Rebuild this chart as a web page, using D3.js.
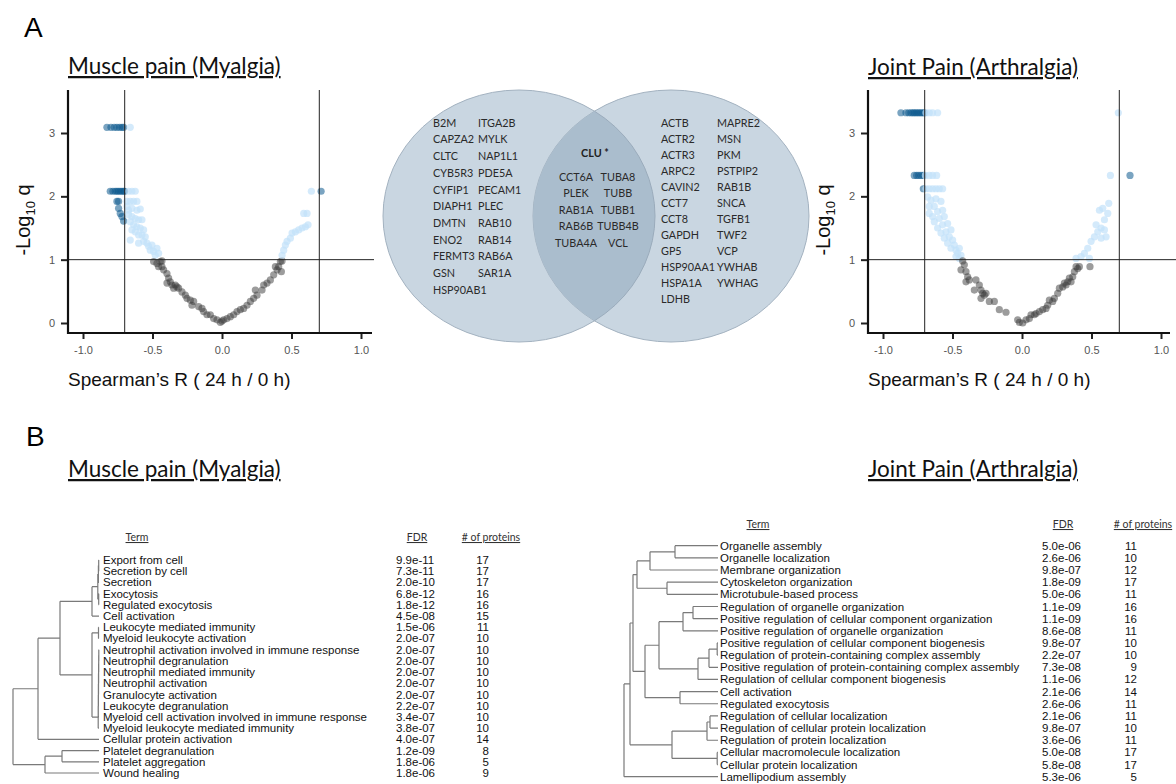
<!DOCTYPE html>
<html><head><meta charset="utf-8">
<script src="https://cdn.jsdelivr.net/npm/d3@7"></script>
<style>body{margin:0;background:#fff}svg{display:block}</style>
</head><body>
<svg id="c" width="1176" height="784"></svg>
<script>
// ---------------- DATA ----------------
const xTicks = [-1, -0.5, 0, 0.5, 1];
const yTicks = [0, 1, 2, 3];
const rCut = 0.7, qCut = 1;

// [Spearman's R, -log10 q]
const myalgiaPoints = [
 [-0.828,3.09],[-0.799,3.09],[-0.775,3.09],[-0.756,3.09],[-0.737,3.09],[-0.72,3.09],[-0.708,3.09],[-0.66,3.09],
 [-0.804,2.08],[-0.785,2.08],[-0.768,2.08],[-0.756,2.08],[-0.744,2.08],[-0.732,2.08],[-0.72,2.08],[-0.708,2.08],[-0.701,2.08],
 [-0.672,2.08],[-0.648,2.08],[-0.624,2.08],
 [-0.756,1.92],[-0.744,1.92],[-0.684,1.92],[-0.66,1.92],[-0.636,1.92],[-0.612,1.92],
 [-0.744,1.81],[-0.732,1.73],[-0.72,1.68],[-0.708,1.61],
 [-0.684,1.84],[-0.672,1.78],[-0.648,1.81],[-0.612,1.78],[-0.588,1.80],[-0.672,1.71],[-0.648,1.68],[-0.624,1.65],
 [-0.600,1.63],[-0.576,1.63],[-0.660,1.60],[-0.636,1.55],[-0.612,1.52],[-0.588,1.50],[-0.564,1.47],[-0.648,1.47],
 [-0.624,1.44],[-0.600,1.39],[-0.576,1.39],[-0.552,1.36],[-0.660,1.31],[-0.600,1.26],[-0.564,1.29],[-0.540,1.26],
 [-0.528,1.21],[-0.516,1.15],[-0.492,1.13],[-0.480,1.07],[-0.468,1.18],[-0.456,1.10],[-0.504,1.23],
 [-0.492,0.97],[-0.468,0.94],[-0.444,0.97],[-0.432,0.98],[-0.456,0.89],[-0.432,0.89],[-0.420,0.84],[-0.396,0.78],
 [-0.384,0.71],[-0.372,0.65],[-0.396,0.63],[-0.360,0.60],[-0.336,0.60],[-0.324,0.57],[-0.312,0.55],[-0.348,0.55],
 [-0.288,0.49],[-0.264,0.44],[-0.252,0.39],[-0.228,0.36],[-0.204,0.34],[-0.216,0.28],[-0.168,0.26],[-0.144,0.23],
 [-0.132,0.18],[-0.108,0.13],[-0.084,0.13],[-0.060,0.07],[-0.036,0.05],[-0.012,0.01],[0.0,0.03],
 [0.012,0.05],[0.036,0.07],[0.06,0.10],[0.084,0.13],[0.108,0.18],[0.132,0.21],[0.156,0.23],[0.180,0.28],
 [0.204,0.34],[0.228,0.39],[0.252,0.44],[0.240,0.52],[0.288,0.52],[0.300,0.60],[0.324,0.63],[0.348,0.68],
 [0.372,0.76],[0.384,0.89],[0.408,0.89],[0.427,0.81],[0.420,0.97],[0.432,0.98],[0.396,0.84],
 [0.432,1.07],[0.444,1.15],[0.456,1.23],[0.468,1.29],[0.492,1.34],[0.504,1.42],[0.528,1.44],[0.552,1.47],
 [0.576,1.50],[0.600,1.52],[0.619,1.55],[0.588,1.73],[0.612,1.73],[0.643,2.08],
 [0.713,2.08]
];

const arthralgiaPoints = [
 [-0.871,3.32],[-0.835,3.32],[-0.815,3.32],[-0.799,3.32],[-0.786,3.32],[-0.775,3.32],[-0.763,3.32],[-0.751,3.32],
 [-0.739,3.32],[-0.727,3.32],[-0.715,3.32],[-0.703,3.32],[-0.691,3.32],[-0.667,3.32],[-0.643,3.32],[-0.607,3.32],
 [0.693,3.32],
 [-0.775,2.33],[-0.758,2.33],[-0.743,2.33],[-0.727,2.33],[-0.710,2.33],[-0.695,2.33],[-0.667,2.33],[-0.643,2.33],[-0.614,2.33],
 [0.636,2.33],[0.777,2.33],
 [-0.710,2.12],[-0.691,2.12],[-0.667,2.12],[-0.643,2.12],[-0.619,2.12],[-0.595,2.12],[-0.571,2.12],
 [-0.679,1.99],[-0.655,1.94],[-0.619,1.96],[-0.583,1.92],[-0.667,1.84],[-0.631,1.84],[-0.607,1.76],[-0.571,1.78],
 [-0.667,1.73],[-0.643,1.68],[-0.595,1.65],[-0.559,1.68],[-0.631,1.60],[-0.607,1.50],[-0.571,1.55],[-0.535,1.57],
 [-0.583,1.42],[-0.547,1.44],[-0.511,1.47],[-0.559,1.34],[-0.523,1.36],[-0.499,1.31],[-0.535,1.26],[-0.487,1.23],
 [-0.511,1.18],[-0.475,1.15],[-0.451,1.18],[-0.463,1.10],[-0.439,1.07],[-0.475,1.05],[-0.451,1.02],
 [-0.427,0.98],[-0.415,0.92],[-0.439,0.84],[-0.403,0.81],[-0.391,0.73],[-0.403,0.65],[-0.379,0.68],[-0.331,0.68],
 [-0.307,0.60],[-0.343,0.52],[-0.295,0.52],[-0.283,0.47],[-0.271,0.44],[-0.259,0.47],[-0.295,0.39],[-0.235,0.34],
 [-0.199,0.34],[-0.163,0.21],[-0.115,0.17],[-0.031,0.05],[-0.019,0.01],[0.005,0.00],
 [0.029,0.05],[0.053,0.07],[0.065,0.13],[0.089,0.13],[0.101,0.15],[0.125,0.18],[0.149,0.21],[0.173,0.23],
 [0.185,0.28],[0.197,0.36],[0.221,0.34],[0.233,0.39],[0.257,0.47],[0.269,0.55],[0.293,0.57],[0.305,0.63],
 [0.329,0.65],[0.341,0.71],[0.317,0.60],[0.365,0.73],[0.377,0.81],[0.389,0.89],[0.413,0.89],[0.489,0.89],
 [0.401,0.86],[0.353,0.65],
 [0.389,1.02],[0.425,1.05],[0.449,1.10],[0.485,1.02],[0.473,1.18],[0.497,1.29],[0.521,1.36],[0.545,1.44],
 [0.569,1.50],[0.593,1.47],[0.605,1.36],[0.569,1.34],[0.533,1.55],[0.593,1.63],[0.557,1.78],[0.581,1.81],
 [0.617,1.73],[0.624,1.89]
];

const vennMyalgiaOnly = ["B2M","CAPZA2","CLTC","CYB5R3","CYFIP1","DIAPH1","DMTN","ENO2","FERMT3","GSN","HSP90AB1",
  "ITGA2B","MYLK","NAP1L1","PDE5A","PECAM1","PLEC","RAB10","RAB14","RAB6A","SAR1A"];
const vennSharedTop = "CLU *";
const vennShared = ["CCT6A","PLEK","RAB1A","RAB6B","TUBA4A","TUBA8","TUBB","TUBB1","TUBB4B","VCL"];
const vennArthralgiaOnly = ["ACTB","ACTR2","ACTR3","ARPC2","CAVIN2","CCT7","CCT8","GAPDH","GP5","HSP90AA1","HSPA1A","LDHB",
  "MAPRE2","MSN","PKM","PSTPIP2","RAB1B","SNCA","TGFB1","TWF2","VCP","YWHAB","YWHAG"];

const myalgiaTerms = ["Export from cell","Secretion by cell","Secretion","Exocytosis","Regulated exocytosis","Cell activation",
 "Leukocyte mediated immunity","Myeloid leukocyte activation","Neutrophil activation involved in immune response",
 "Neutrophil degranulation","Neutrophil mediated immunity","Neutrophil activation","Granulocyte activation",
 "Leukocyte degranulation","Myeloid cell activation involved in immune response","Myeloid leukocyte mediated immunity",
 "Cellular protein activation","Platelet degranulation","Platelet aggregation","Wound healing"];
const myalgiaFDR = ["9.9e-11","7.3e-11","2.0e-10","6.8e-12","1.8e-12","4.5e-08","1.5e-06","2.0e-07","2.0e-07","2.0e-07",
 "2.0e-07","2.0e-07","2.0e-07","2.2e-07","3.4e-07","3.8e-07","4.0e-07","1.2e-09","1.8e-06","1.8e-06"];
const myalgiaCounts = [17,17,17,16,16,15,11,10,10,10,10,10,10,10,10,10,14,8,5,9];
// hclust-style merges: negative = leaf (1-based), positive = earlier merge (1-based), then height
const myalgiaMerges = [
 [-1,-2,0.3],[1,-3,0.6],[-4,-5,0.3],[2,3,1.2],[4,-6,7],
 [-7,-8,0.5],[-9,-10,0.2],[7,-11,0.3],[8,-12,0.4],[9,-13,0.5],[10,-14,0.6],[11,-15,0.7],[12,-16,0.8],
 [6,13,7],[5,14,39],[15,-17,61],[-18,-19,37],[17,-20,54],[16,18,86]
];

const arthralgiaTerms = ["Organelle assembly","Organelle localization","Membrane organization","Cytoskeleton organization",
 "Microtubule-based process","Regulation of organelle organization","Positive regulation of cellular component organization",
 "Positive regulation of organelle organization","Positive regulation of cellular component biogenesis",
 "Regulation of protein-containing complex assembly","Positive regulation of protein-containing complex assembly",
 "Regulation of cellular component biogenesis","Cell activation","Regulated exocytosis","Regulation of cellular localization",
 "Regulation of cellular protein localization","Regulation of protein localization","Cellular macromolecule localization",
 "Cellular protein localization","Lamellipodium assembly"];
const arthralgiaFDR = ["5.0e-06","2.6e-06","9.8e-07","1.8e-09","5.0e-06","1.1e-09","1.1e-09","8.6e-08","9.8e-07","2.2e-07",
 "7.3e-08","1.1e-06","2.1e-06","2.6e-06","2.1e-06","9.8e-07","3.6e-06","5.0e-08","5.8e-08","5.3e-06"];
const arthralgiaCounts = [11,10,12,17,11,16,16,11,10,10,9,12,14,11,11,10,11,17,17,5];
const arthralgiaMerges = [
 [-1,-2,43],[1,-3,68],[-4,-5,51],[2,3,81],
 [-6,-7,25],[5,-8,35],[-9,-10,0.8],[7,-11,9],[8,-12,20],[6,9,59],
 [-13,-14,38],[10,11,73],[4,12,85],
 [-15,-16,8],[14,-17,11],[-18,-19,0.8],[15,16,46],[13,17,88],[18,-20,94]
];

// ---------------- DRAW ----------------
const svg = d3.select("#c");
const TITLE_FONT = "Lato, 'Open Sans', sans-serif";
const ARIAL = "'Liberation Sans', Arial, sans-serif";
const C_DARK = "#0d5a8e", C_LIGHT = "#c2e1fa", C_GRAY = "#3a3a3a";

svg.append("text").attr("x", 24).attr("y", 37).attr("font-family", ARIAL).attr("font-size", 28).text("A");
svg.append("text").attr("x", 26).attr("y", 446).attr("font-family", ARIAL).attr("font-size", 28).text("B");

function volcano(cfg) {
  const g = svg.append("g");
  const x = d3.scaleLinear([-1, 1], cfg.xRange);
  const y = d3.scaleLinear([0, 3], [323, 133]);
  const top = 90, bottom = 333;

  g.append("text").attr("x", cfg.axisX).attr("y", cfg.titleY).attr("font-family", TITLE_FONT)
    .attr("font-size", 22.5).attr("text-decoration", "underline").attr("fill", "#111").text(cfg.title);

  const col = d => d[1] > qCut ? (Math.abs(d[0]) >= rCut ? C_DARK : C_LIGHT) : C_GRAY;
  const op = d => d[1] > qCut ? (Math.abs(d[0]) >= rCut ? 0.55 : 0.7) : 0.5;
  g.append("g").selectAll("circle").data(cfg.points).join("circle")
    .attr("cx", d => x(d[0])).attr("cy", d => y(d[1])).attr("r", 3.6)
    .attr("fill", col).attr("fill-opacity", op);

  // reference lines
  [-rCut, rCut].forEach(v => g.append("line").attr("x1", x(v)).attr("x2", x(v)).attr("y1", top).attr("y2", bottom)
    .attr("stroke", "#222").attr("stroke-width", 1));
  g.append("line").attr("x1", cfg.axisX).attr("x2", cfg.hEnd).attr("y1", y(qCut)).attr("y2", y(qCut))
    .attr("stroke", "#222").attr("stroke-width", 1);

  // axes
  const ax = g.append("g").attr("transform", `translate(0,${bottom})`)
    .call(d3.axisBottom(x).tickValues(xTicks).tickSize(6).tickPadding(7));
  ax.select(".domain").remove();
  ax.selectAll("text").text(d => d3.format(".1f")(d).replace("\u2212", "-"));
  const ay = g.append("g").attr("transform", `translate(${cfg.axisX},0)`)
    .call(d3.axisLeft(y).tickValues(yTicks).tickFormat(d3.format("d")).tickSize(7).tickPadding(6));
  ay.select(".domain").remove();
  [ax, ay].forEach(a => {
    a.selectAll("line").attr("stroke", "#222").attr("stroke-width", 2);
    a.selectAll("text").attr("fill", "#555").attr("font-family", ARIAL).attr("font-size", 11);
  });
  g.append("line").attr("x1", cfg.axisX).attr("x2", cfg.axisEnd).attr("y1", bottom).attr("y2", bottom)
    .attr("stroke", "#111").attr("stroke-width", 2.2);
  g.append("line").attr("x1", cfg.axisX).attr("x2", cfg.axisX).attr("y1", top).attr("y2", bottom + 1)
    .attr("stroke", "#111").attr("stroke-width", 2.2);

  // y label
  const yl = g.append("text").attr("transform", `translate(${cfg.yLabelX},220) rotate(-90)`)
    .attr("text-anchor", "middle").attr("font-family", ARIAL).attr("font-size", 20).attr("fill", "#111");
  yl.append("tspan").text("-Log");
  yl.append("tspan").attr("font-size", 13).attr("dy", 5).text("10");
  yl.append("tspan").attr("dy", -5).text(" q");
  // x label
  g.append("text").attr("x", cfg.axisX).attr("y", 386).attr("font-family", ARIAL).attr("font-size", 19)
    .attr("fill", "#111").text("Spearman\u2019s R ( 24 h / 0 h)");
}

volcano({points: myalgiaPoints, xRange: [83, 361], axisX: 68, axisEnd: 372, hEnd: 374,
  title: "Muscle pain (Myalgia)", titleY: 74, yLabelX: 30});
volcano({points: arthralgiaPoints, xRange: [883, 1161], axisX: 868, axisEnd: 1170, hEnd: 1176,
  title: "Joint Pain (Arthralgia)", titleY: 75, yLabelX: 830});

// ---------------- VENN ----------------
const venn = svg.append("g");
const defs = svg.append("defs");
defs.append("clipPath").attr("id", "clipR").append("ellipse")
  .attr("cx", 671).attr("cy", 216).attr("rx", 138).attr("ry", 126);
venn.append("ellipse").attr("cx", 519).attr("cy", 216).attr("rx", 136).attr("ry", 126)
  .attr("fill", "#c9d6e1").attr("stroke", "#a3b2c0").attr("stroke-width", 1);
venn.append("ellipse").attr("cx", 671).attr("cy", 216).attr("rx", 138).attr("ry", 126)
  .attr("fill", "#c9d6e1").attr("stroke", "#a3b2c0").attr("stroke-width", 1);
venn.append("ellipse").attr("cx", 519).attr("cy", 216).attr("rx", 136).attr("ry", 126)
  .attr("clip-path", "url(#clipR)").attr("fill", "#aabdcd").attr("stroke", "#9aabbb").attr("stroke-width", 1);

const VF = "Lato, 'Open Sans', sans-serif";
function vennList(list, rows, xs, y0, step, anchor) {
  venn.append("g").selectAll("text").data(list).join("text")
    .attr("x", (d, i) => xs[Math.floor(i / rows)])
    .attr("y", (d, i) => y0 + (i % rows) * step)
    .attr("dy", "0.35em").attr("text-anchor", anchor)
    .attr("font-family", VF).attr("font-size", 10.8).attr("fill", "#2a2a2a").text(d => d);
}
vennList(vennMyalgiaOnly, 11, [433, 478], 123, 16.7, "start");
vennList(vennArthralgiaOnly, 12, [661, 717], 123, 16.0, "start");
vennList(vennShared, 5, [576, 618], 177, 16.5, "middle");
venn.append("text").attr("x", 595).attr("y", 153).attr("dy", "0.35em").attr("text-anchor", "middle")
  .attr("font-family", VF).attr("font-size", 10.8).attr("font-weight", "bold").attr("fill", "#222").text(vennSharedTop);

// ---------------- TABLES + DENDROGRAMS ----------------
function table(cfg) {
  const g = svg.append("g");
  const n = cfg.terms.length;
  const row = d3.scaleLinear([0, n - 1], cfg.rowRange);
  const hx = d3.scaleLinear([0, cfg.maxH], [cfg.leafX, cfg.rootX]);

  g.append("text").attr("x", cfg.titleX).attr("y", 477).attr("font-family", TITLE_FONT).attr("font-size", 22.5)
    .attr("text-decoration", "underline").attr("fill", "#111").text(cfg.title);

  const hdr = [["Term", cfg.termHdrX], ["FDR", cfg.fdrHdrX], ["# of proteins", cfg.cntHdrX]];
  g.selectAll(".hdr").data(hdr).join("text").attr("x", d => d[1]).attr("y", cfg.hdrY)
    .attr("text-anchor", "middle").attr("font-family", TITLE_FONT).attr("font-size", 10.5)
    .attr("text-decoration", "underline").attr("fill", "#333").text(d => d[0]);

  g.append("g").selectAll("text").data(cfg.terms).join("text")
    .attr("x", cfg.textX).attr("y", (d, i) => row(i)).attr("dy", "0.35em")
    .attr("font-family", ARIAL).attr("font-size", cfg.fs).attr("fill", "#111").text(d => d);
  g.append("g").selectAll("text").data(cfg.fdr).join("text")
    .attr("x", cfg.fdrX).attr("y", (d, i) => row(i)).attr("dy", "0.35em")
    .attr("font-family", ARIAL).attr("font-size", cfg.fs).attr("fill", "#111").text(d => d);
  g.append("g").selectAll("text").data(cfg.counts).join("text")
    .attr("x", cfg.cntX).attr("y", (d, i) => row(i)).attr("dy", "0.35em").attr("text-anchor", "end")
    .attr("font-family", ARIAL).attr("font-size", cfg.fs).attr("fill", "#111").text(d => d);

  // dendrogram
  const nodes = [];
  const pos = id => id < 0 ? {x: hx(0), y: row(-id - 1)} : nodes[id - 1];
  const path = d3.path();
  cfg.merges.forEach(([a, b, h]) => {
    const pa = pos(a), pb = pos(b), mx = hx(h);
    path.moveTo(pa.x, pa.y); path.lineTo(mx, pa.y);
    path.moveTo(pb.x, pb.y); path.lineTo(mx, pb.y);
    path.moveTo(mx, pa.y); path.lineTo(mx, pb.y);
    nodes.push({x: mx, y: (pa.y + pb.y) / 2});
  });
  g.append("path").attr("d", path.toString()).attr("fill", "none")
    .attr("stroke", "#7a7a7a").attr("stroke-width", 1.2);
}

table({terms: myalgiaTerms, fdr: myalgiaFDR, counts: myalgiaCounts, merges: myalgiaMerges,
  rowRange: [560, 773], maxH: 86, leafX: 99, rootX: 13, textX: 103, fdrX: 396, cntX: 489, fs: 11.5,
  title: "Muscle pain (Myalgia)", titleX: 68, hdrY: 541, termHdrX: 137, fdrHdrX: 417, cntHdrX: 491});
table({terms: arthralgiaTerms, fdr: arthralgiaFDR, counts: arthralgiaCounts, merges: arthralgiaMerges,
  rowRange: [545.7, 776.7], maxH: 94, leafX: 718, rootX: 624, textX: 720, fdrX: 1042, cntX: 1137, fs: 11.5,
  title: "Joint Pain (Arthralgia)", titleX: 868, hdrY: 528, termHdrX: 758, fdrHdrX: 1063, cntHdrX: 1143});
</script>
</body></html>
